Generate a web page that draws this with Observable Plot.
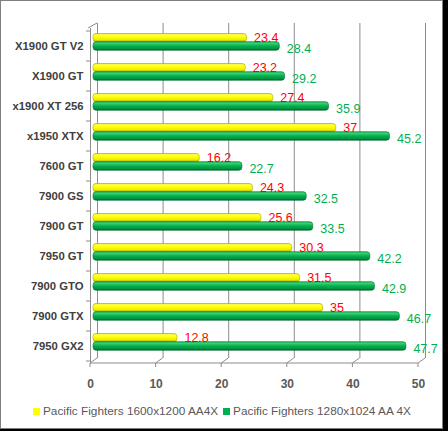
<!DOCTYPE html>
<html>
<head>
<meta charset="utf-8">
<script src="https://cdn.jsdelivr.net/npm/d3@7"></script>
<script src="https://cdn.jsdelivr.net/npm/@observablehq/plot@0.6"></script>
<style>
  body { margin: 0; background: #000; }
  #box { position: absolute; left: 0; top: 0; width: 441px; height: 427px; background: #fff;
         border: 1px solid #7f7f7f; font-family: "Liberation Sans", Arial, sans-serif; overflow: hidden; }
  #chart svg { display: block; }
  #legend { position: absolute; left: 32px; top: 403px; display: flex; align-items: center;
            font-size: 11.8px; color: #595959; line-height: 14px; white-space: nowrap; }
  #legend .sw { display: inline-block; width: 7px; height: 7px; margin-right: 3px; }
  #legend .item { display: flex; align-items: center; margin-right: 5px; }
</style>
</head>
<body>
<div id="box">
  <div id="chart"></div>
  <div id="legend"></div>
</div>
<script>
// cards, top to bottom
const cards = ["X1900 GT V2", "X1900 GT", "x1900 XT 256", "x1950 XTX", "7600 GT", "7900 GS",
               "7900 GT", "7950 GT", "7900 GTO", "7900 GTX", "7950 GX2"];
const fps1600 = [23.4, 23.2, 27.4, 37, 16.2, 24.3, 25.6, 30.3, 31.5, 35, 12.8];
const fps1280 = [28.4, 29.2, 35.9, 45.2, 22.7, 32.5, 33.5, 42.2, 42.9, 46.7, 47.7];
const xTicks = [0, 10, 20, 30, 40, 50];
const seriesNames = ["Pacific Fighters 1600x1200 AA4X", "Pacific Fighters 1280x1024 AA 4X"];
const seriesColors = ["#ffff00", "#00b050"];

const hi = cards.map((card, i) => ({card, fps: fps1600[i]}));
const lo = cards.map((card, i) => ({card, fps: fps1280[i]}));

const grid = "#8c8c8c";

// 3D-ish decorations: floor edge, depth diagonals, front ticks, category ticks
function depthLines(index, scales, values, dims) {
  const {x, y} = scales;
  const bottom = dims.height - dims.marginBottom;
  const top = dims.marginTop;
  const g = d3.create("svg:g").attr("stroke", grid).attr("fill", "none");
  const x0 = x(xTicks[0]);
  const x1 = x(xTicks[xTicks.length - 1]);
  g.append("line").attr("x1", x0).attr("x2", x1).attr("y1", bottom).attr("y2", bottom);
  for (const t of xTicks) {
    g.append("line").attr("x1", x(t)).attr("x2", x(t) + 7).attr("y1", bottom).attr("y2", bottom - 5);
    g.append("line").attr("x1", x(t)).attr("x2", x(t)).attr("y1", bottom).attr("y2", bottom + 4);
  }
  g.append("line").attr("x1", x0 - 2).attr("x2", x0 + 7).attr("y1", top).attr("y2", top - 5);
  const bw = y.bandwidth ? y.bandwidth() : (bottom - top) / cards.length;
  const edges = cards.map(c => y(c)).concat([y(cards[cards.length - 1]) + bw]);
  for (const e of edges) {
    g.append("line").attr("x1", x0 - 4).attr("x2", x0).attr("y1", e).attr("y2", e);
  }
  return g.node();
}

const chart = Plot.plot({
  width: 441,
  height: 395,
  marginLeft: 89,
  marginRight: 24,
  marginTop: 27,
  marginBottom: 33,
  style: {fontFamily: "Liberation Sans, Arial, sans-serif", background: "transparent", overflow: "visible"},
  x: {domain: [0, 50], axis: null},
  y: {domain: cards, padding: 0, axis: null},
  marks: [
    Plot.ruleX(xTicks, {dx: 7, dy: -5, stroke: grid}),
    Plot.ruleX([0], {stroke: grid}),
    depthLines,
    Plot.barX(hi, {x: "fps", y: "card", fill: "url(#gradHi)", insetTop: 2.5, insetBottom: 19.3, rx: 3,
                   dx: 3, stroke: "#a6a600", strokeWidth: 0.6}),
    Plot.barX(lo, {x: "fps", y: "card", fill: "url(#gradLo)", insetTop: 10.7, insetBottom: 10.7, rx: 3,
                   dx: 3, stroke: "#00702f", strokeWidth: 0.6}),
    Plot.text(hi, {x: "fps", y: "card", text: d => String(d.fps), dx: 10, dy: -8.5, textAnchor: "start",
                   fill: "#ff0000", fontSize: 12.5}),
    Plot.text(lo, {x: "fps", y: "card", text: d => String(d.fps), dx: 10, dy: 2, textAnchor: "start",
                   fill: "#00b050", fontSize: 12.5}),
    Plot.axisY({tickSize: 0, tickPadding: 7, fontSize: 11.3, fontWeight: "bold", color: "#404040", label: null}),
    Plot.axisX(xTicks, {tickSize: 0, tickPadding: 16, fontSize: 12, fontWeight: "bold", color: "#595959", label: null})
  ]
});

// cylinder shading
const defs = d3.select(chart).insert("defs", ":first-child");
function grad(id, stops) {
  const lg = defs.append("linearGradient").attr("id", id)
    .attr("x1", 0).attr("y1", 0).attr("x2", 0).attr("y2", 1);
  stops.forEach(([o, c]) => lg.append("stop").attr("offset", o).attr("stop-color", c));
}
grad("gradHi", [[0, "#e0e000"], [0.15, "#ffff55"], [0.45, "#ffff00"], [0.8, "#eaea00"], [1, "#8f8f00"]]);
grad("gradLo", [[0, "#22b85a"], [0.18, "#3dd072"], [0.5, "#00b050"], [0.82, "#00933f"], [1, "#005a28"]]);

d3.select("#chart").append(() => chart);

const legend = d3.select("#legend");
seriesNames.forEach((name, i) => {
  const item = legend.append("div").attr("class", "item");
  item.append("span").attr("class", "sw").style("background", seriesColors[i]);
  item.append("span").text(name);
});
</script>
</body>
</html>
